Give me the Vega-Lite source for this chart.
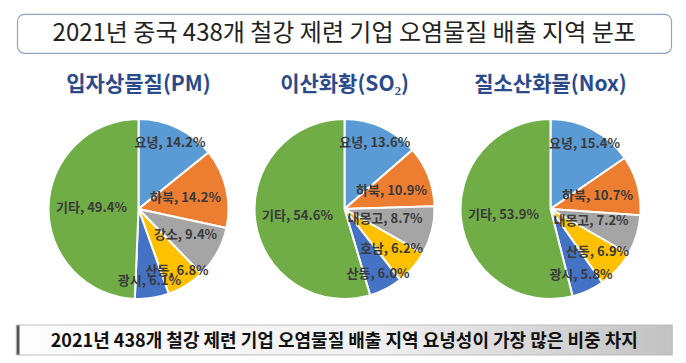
{
  "$schema": "https://vega.github.io/schema/vega-lite/v6.json",
  "background": "white",
  "padding": {"left": 15, "top": 13, "right": 0, "bottom": 0},
  "config": {"font": "Noto Sans CJK KR", "view": {"stroke": null}},
  "datasets": {
    "pies": [
      {"chart": "입자상물질(PM)", "order": 1, "region": "요녕", "value": 14.2},
      {"chart": "입자상물질(PM)", "order": 2, "region": "하북", "value": 14.2},
      {"chart": "입자상물질(PM)", "order": 3, "region": "강소", "value": 9.4},
      {"chart": "입자상물질(PM)", "order": 4, "region": "산동", "value": 6.8},
      {"chart": "입자상물질(PM)", "order": 5, "region": "광시", "value": 6.1},
      {"chart": "입자상물질(PM)", "order": 6, "region": "기타", "value": 49.4},
      {"chart": "이산화황(SO₂)", "order": 1, "region": "요녕", "value": 13.6},
      {"chart": "이산화황(SO₂)", "order": 2, "region": "하북", "value": 10.9},
      {"chart": "이산화황(SO₂)", "order": 3, "region": "내몽고", "value": 8.7},
      {"chart": "이산화황(SO₂)", "order": 4, "region": "호남", "value": 6.2},
      {"chart": "이산화황(SO₂)", "order": 5, "region": "산동", "value": 6.0},
      {"chart": "이산화황(SO₂)", "order": 6, "region": "기타", "value": 54.6},
      {"chart": "질소산화물(Nox)", "order": 1, "region": "요녕", "value": 15.4},
      {"chart": "질소산화물(Nox)", "order": 2, "region": "하북", "value": 10.7},
      {"chart": "질소산화물(Nox)", "order": 3, "region": "내몽고", "value": 7.2},
      {"chart": "질소산화물(Nox)", "order": 4, "region": "산동", "value": 6.9},
      {"chart": "질소산화물(Nox)", "order": 5, "region": "광시", "value": 5.8},
      {"chart": "질소산화물(Nox)", "order": 6, "region": "기타", "value": 53.9}
    ]
  },
  "center": true,
  "spacing": 20,
  "vconcat": [
    {
      "width": 654,
      "height": 39,
      "view": {"stroke": "#8FA3BC", "strokeWidth": 1.2, "cornerRadius": 7, "fill": "white"},
      "data": {"values": [{"t": "2021년 중국 438개 철강 제련 기업 오염물질 배출 지역 분포"}]},
      "mark": {"type": "text", "fontSize": 24, "color": "#222222", "baseline": "middle"},
      "encoding": {"text": {"field": "t"}}
    },
    {
      "data": {"name": "pies"},
      "transform": [
        {"joinaggregate": [{"op": "sum", "field": "value", "as": "total"}], "groupby": ["chart"]},
        {"window": [{"op": "sum", "field": "value", "as": "cum"}], "groupby": ["chart"], "sort": [{"field": "order"}], "frame": [null, 0]},
        {"calculate": "datum.region + ', ' + format(datum.value, '.1f') + '%'", "as": "label"},
        {"calculate": "(datum.cum - datum.value / 2) / datum.total * 2 * PI", "as": "mid"},
        {"calculate": "min(73, (82 - (6.5 * length(datum.region) + 22)) / max(abs(sin(datum.mid)), 0.01))", "as": "r"}
      ],
      "facet": {
        "column": {
          "field": "chart",
          "type": "nominal",
          "sort": ["입자상물질(PM)", "이산화황(SO₂)", "질소산화물(Nox)"],
          "header": {"title": null, "labelFontSize": 21, "labelFontWeight": "bold", "labelColor": "#2B4A8B", "labelPadding": 19, "labelFont": "Noto Sans CJK KR"}
        }
      },
      "spacing": {"column": 6},
      "resolve": {"scale": {"theta": "independent"}},
      "spec": {
        "width": 200,
        "height": 190,
        "layer": [
          {
            "mark": {"type": "arc", "radius": 90, "stroke": "white", "strokeWidth": 2},
            "encoding": {
              "theta": {"field": "value", "type": "quantitative", "stack": true},
              "order": {"field": "order", "type": "quantitative"},
              "color": {
                "field": "order",
                "type": "nominal",
                "scale": {"domain": [1, 2, 3, 4, 5, 6], "range": ["#5B9BD5", "#ED7D31", "#A5A5A5", "#FFC000", "#4472C4", "#70AD47"]},
                "legend": null
              }
            }
          },
          {
            "mark": {"type": "text", "fontSize": 13, "fontWeight": "bold", "color": "#3A3A3A"},
            "encoding": {
              "theta": {"field": "mid", "type": "quantitative", "scale": null},
              "radius": {"field": "r", "type": "quantitative", "scale": null},
              "text": {"field": "label"}
            }
          }
        ]
      }
    },
    {
      "width": 656,
      "height": 30,
      "data": {"values": [{"t": "2021년 438개 철강 제련 기업 오염물질 배출 지역 요녕성이 가장 많은 비중 차지"}]},
      "layer": [
        {
          "mark": {
            "type": "rect",
            "stroke": "#BDBDBD",
            "strokeWidth": 1,
            "color": {
              "gradient": "linear", "x1": 0, "x2": 1, "y1": 0, "y2": 0,
              "stops": [
                {"offset": 0, "color": "#555555"},
                {"offset": 0.004, "color": "#555555"},
                {"offset": 0.006, "color": "#FDFDFD"},
                {"offset": 0.55, "color": "#F0F0F0"},
                {"offset": 1, "color": "#C2C2C2"}
              ]
            }
          },
          "encoding": {}
        },
        {
          "mark": {"type": "text", "fontSize": 18, "fontWeight": "bold", "color": "#111111", "dy": 2},
          "encoding": {"text": {"field": "t"}}
        }
      ]
    }
  ]
}
